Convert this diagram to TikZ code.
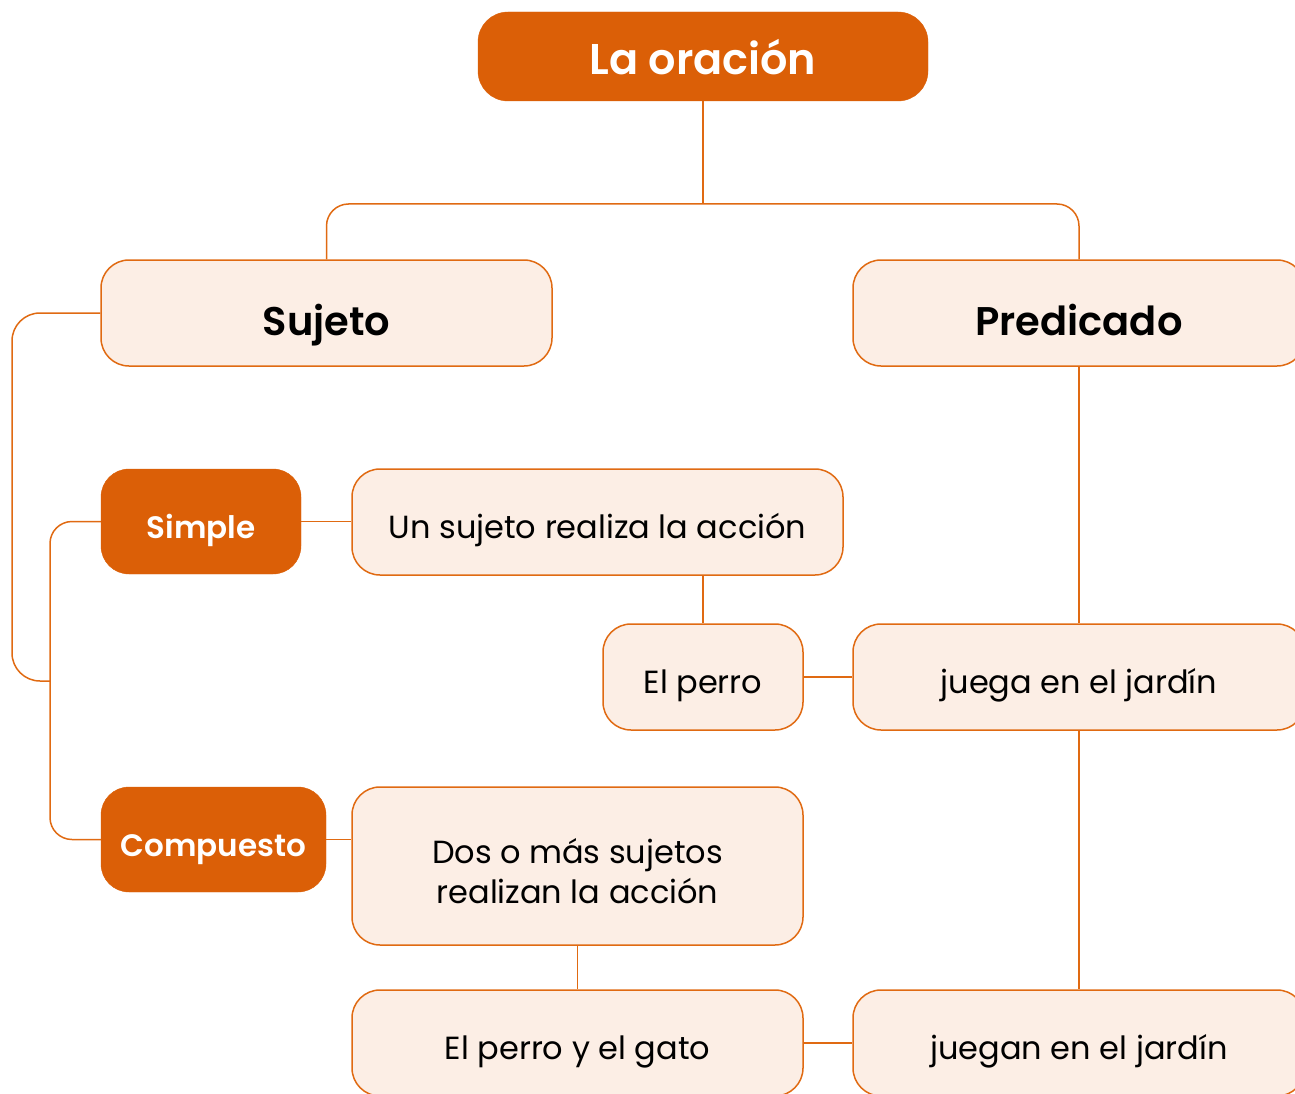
\documentclass[tikz,border=0pt]{standalone}
\usepackage{fontspec}
\setmainfont{Poppins}[BoldFont={* SemiBold}]
\usetikzlibrary{calc}

\definecolor{naranja}{HTML}{DB5F07}
\definecolor{crema}{HTML}{FCEEE5}
\definecolor{linea}{HTML}{E06A12}

\tikzset{
  fuerte/.style={rounded corners=28pt, fill=naranja, draw=naranja, text=white,
    font=\bfseries\fontsize{31}{38}\selectfont, align=center, inner sep=0pt,
    text height=33pt, text depth=0pt},
  suave/.style={rounded corners=28pt, fill=crema, draw=linea, line width=1.5pt,
    text=black, font=\fontsize{32}{40}\selectfont, align=center, inner sep=0pt,
    text height=32pt, text depth=0pt},
  titulo/.style={font=\bfseries\fontsize{40}{48}\selectfont, text height=44pt},
  conn/.style={draw=linea, line width=1.5pt}
}

\begin{document}
\begin{tikzpicture}[x=1pt, y=-1pt]
  \useasboundingbox (0,0) rectangle (1295,1094);

  % Top node
  \node[fuerte, minimum width=450pt, minimum height=89pt, rounded corners=30pt,
    font=\bfseries\fontsize{43}{50}\selectfont, text height=37pt] (oracion) at (703,56.5) {La oración};

  % Subject and predicate
  \node[suave, titulo, minimum width=451pt, minimum height=106pt] (sujeto) at (326.5,313) {Sujeto};
  \node[suave, titulo, minimum width=452pt, minimum height=106pt] (predicado) at (1079,313) {Predicado};

  % Simple subject row
  \node[fuerte, minimum width=200pt, minimum height=105pt] (simple) at (201,521.5) {Simple};
  \node[suave, minimum width=491pt, minimum height=106pt] (unsujeto) at (597.5,522) {Un sujeto realiza la acción};
  \node[suave, minimum width=200pt, minimum height=106pt] (elperro) at (703,677) {El perro};
  \node[suave, minimum width=452pt, minimum height=106pt] (juega) at (1079,677) {juega en el jardín};

  % Compound subject row
  \node[fuerte, minimum width=225pt, minimum height=105pt] (compuesto) at (213.5,839.5) {Compuesto};
  \node[suave, minimum width=451pt, minimum height=158pt, text height=74pt] (dos) at (577.5,866) {Dos o más sujetos\\realizan la acción};
  \node[suave, minimum width=451pt, minimum height=106pt] (perrogato) at (577.5,1043) {El perro y el gato};
  \node[suave, minimum width=452pt, minimum height=106pt] (juegan) at (1079,1043) {juegan en el jardín};

  % Branch points
  \coordinate (cruce) at (703,204);
  \coordinate (izq) at (12,681);
  \coordinate (bar) at (50,681);

  % Connectors
  \draw[conn] (oracion.south) -- (cruce);
  \draw[conn, rounded corners=22pt] (sujeto.north) |- (cruce) -| (predicado.north);
  \draw[conn, rounded corners=28pt] (sujeto.west) -| (izq) -- (bar);
  \draw[conn, rounded corners=22pt] (simple.west) -| (bar) |- (compuesto.west);
  \draw[conn] (simple.east) -- (simple.east -| unsujeto.west);
  \draw[conn] (elperro.north) -- (elperro.north |- unsujeto.south);
  \draw[conn] (elperro.east) -- (juega.west);
  \draw[conn] (predicado.south) -- (juega.north);
  \draw[conn] (juega.south) -- (juegan.north);
  \draw[conn] (compuesto.east) -- (compuesto.east -| dos.west);
  \draw[conn] (dos.south) -- (perrogato.north);
  \draw[conn] (perrogato.east) -- (juegan.west);
\end{tikzpicture}
\end{document}
